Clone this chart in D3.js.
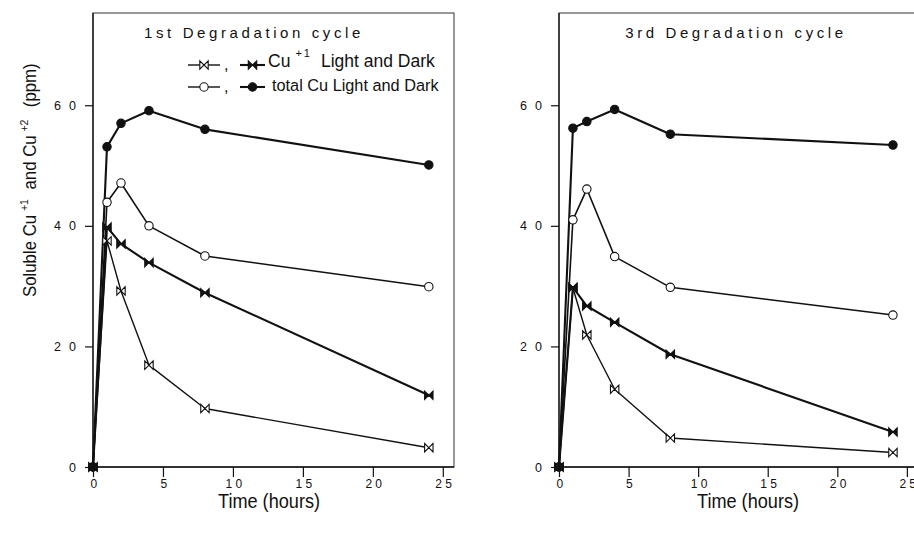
<!DOCTYPE html>
<html><head><meta charset="utf-8">
<script src="https://cdn.jsdelivr.net/npm/d3@7"></script>
<style>body{margin:0;background:#fff} svg{display:block}</style>
</head><body><svg id="chart"></svg>
<script>
var hours = [0, 1, 2, 4, 8, 24];
var xTicks = [0, 5, 10, 15, 20, 25];
var yTicks = [0, 20, 40, 60];
var titles = ['1st Degradation cycle', '3rd Degradation cycle'];

// 1st cycle
var cu1Light1 = [0, 37.5, 29.2, 16.9, 9.7, 3.2];
var cu1Dark1 = [0, 39.8, 37, 33.9, 28.9, 11.9];
var totLight1 = [0, 43.9, 47.1, 40, 35, 29.9];
var totDark1 = [0, 53.1, 57, 59.1, 56, 50.1];
// 3rd cycle
var cu1Light3 = [0, 29.7, 21.9, 12.9, 4.8, 2.4];
var cu1Dark3 = [0, 29.8, 26.7, 24, 18.7, 5.8];
var totLight3 = [0, 41, 46.1, 34.9, 29.8, 25.2];
var totDark3 = [0, 56.2, 57.3, 59.3, 55.2, 53.4];

var svg = d3.select('#chart').attr('width', 914).attr('height', 539);
var ink = '#111';
var sans = "'Liberation Sans', Arial, sans-serif";

// marker shapes
function marker(g, type, cx, cy) {
  var s = 4.2;
  if (type == 'bowOpen' || type == 'bowFill') {
    g.append('path')
      .attr('d', 'M' + (cx - s) + ',' + (cy - s) + 'L' + cx + ',' + cy + 'L' + (cx - s) + ',' + (cy + s) + 'Z' +
                 'M' + (cx + s) + ',' + (cy - s) + 'L' + cx + ',' + cy + 'L' + (cx + s) + ',' + (cy + s) + 'Z')
      .attr('fill', type == 'bowFill' ? ink : '#fff')
      .attr('stroke', ink)
      .attr('stroke-width', 1.1);
  } else {
    g.append('circle')
      .attr('cx', cx).attr('cy', cy).attr('r', 4.2)
      .attr('fill', type == 'circFill' ? ink : '#fff')
      .attr('stroke', ink)
      .attr('stroke-width', 1.1);
  }
}

var panels = [
  {left: 93, right: 454, titleX: 254, xTitleX: 269,
   series: [[cu1Light1, 'bowOpen', 1.4], [totLight1, 'circOpen', 1.6], [cu1Dark1, 'bowFill', 2.1], [totDark1, 'circFill', 2.1]]},
  {left: 559, right: 918, titleX: 736, xTitleX: 748,
   series: [[cu1Light3, 'bowOpen', 1.4], [totLight3, 'circOpen', 1.6], [cu1Dark3, 'bowFill', 2.1], [totDark3, 'circFill', 2.1]]}
];

panels.forEach(function(p, pi) {
  var x = d3.scaleLinear().domain([0, 25.8]).range([p.left, p.right]);
  var y = d3.scaleLinear().domain([0, 75.3]).range([467, 13]);
  var g = svg.append('g');

  // frame
  g.append('rect')
    .attr('x', x(0)).attr('y', y(75.3))
    .attr('width', x(25.8) - x(0)).attr('height', y(0) - y(75.3))
    .attr('fill', 'none').attr('stroke', '#333').attr('stroke-width', 1);

  var xAxis = g.append('g')
    .attr('transform', 'translate(0,' + y(0) + ')')
    .call(d3.axisBottom(x).tickValues(xTicks).tickSize(10).tickPadding(2).tickSizeOuter(0));
  var yAxis = g.append('g')
    .attr('transform', 'translate(' + x(0) + ',0)')
    .call(d3.axisLeft(y).tickValues(yTicks).tickSize(8).tickPadding(1).tickSizeOuter(0));
  xAxis.select('.domain').remove();
  yAxis.select('.domain').remove();
  g.append('line').attr('x1', x(0)).attr('x2', x(25.8)).attr('y1', y(0)).attr('y2', y(0))
    .attr('stroke', ink).attr('stroke-width', 1.5);
  g.append('line').attr('x1', x(0)).attr('x2', x(0)).attr('y1', y(0)).attr('y2', y(75.3))
    .attr('stroke', ink).attr('stroke-width', 1.3);
  g.selectAll('.tick line').attr('stroke', ink).attr('stroke-width', 1.2);
  xAxis.selectAll('.tick text')
    .attr('font-family', sans).attr('font-size', '12px').attr('fill', ink)
    .attr('letter-spacing', '3.3px').attr('dx', '2px');
  yAxis.selectAll('.tick text')
    .attr('font-family', sans).attr('font-size', '12.5px').attr('fill', ink)
    .attr('letter-spacing', '8px');

  // lines + markers
  var line = d3.line().x(function(d, i) { return x(hours[i]); }).y(function(d) { return y(d); });
  p.series.forEach(function(s) {
    g.append('path').datum(s[0])
      .attr('d', line)
      .attr('fill', 'none').attr('stroke', ink).attr('stroke-width', s[2])
      .attr('stroke-linejoin', 'round');
  });
  p.series.forEach(function(s) {
    s[0].forEach(function(v, i) { marker(g, s[1], x(hours[i]), y(v)); });
  });

  // titles
  g.append('text').text(titles[pi])
    .attr('x', p.titleX).attr('y', 38)
    .attr('text-anchor', 'middle')
    .attr('font-family', sans).attr('font-size', '15px')
    .attr('letter-spacing', '3.6px').attr('fill', ink);
  g.append('text').text('Time (hours)')
    .attr('transform', 'translate(' + p.xTitleX + ',508) scale(0.93,1)')
    .attr('text-anchor', 'middle')
    .attr('font-family', sans).attr('font-size', '19.5px').attr('fill', ink);
});

// y axis title
var yt = svg.append('text')
  .attr('transform', 'translate(36,297) rotate(-90) scale(0.96,1)')
  .attr('font-family', sans).attr('font-size', '17.5px').attr('fill', ink);
yt.append('tspan').text('Soluble Cu');
yt.append('tspan').text('+1').attr('font-size', '11px').attr('dy', -8).attr('dx', 4);
yt.append('tspan').text(' and Cu').attr('dy', 8).attr('dx', 5);
yt.append('tspan').text('+2').attr('font-size', '11px').attr('dy', -8).attr('dx', 4);
yt.append('tspan').text(' (ppm)').attr('dy', 8).attr('dx', 8);

// legend (left panel)
var lg = svg.append('g');
function legendSym(x1, x2, cy, type, w) {
  lg.append('line').attr('x1', x1).attr('x2', x2).attr('y1', cy).attr('y2', cy)
    .attr('stroke', ink).attr('stroke-width', w);
  marker(lg, type, (x1 + x2) / 2, cy);
}
legendSym(188, 220, 65, 'bowOpen', 1.4);
legendSym(240, 265, 65, 'bowFill', 2.1);
legendSym(188, 220, 87, 'circOpen', 1.4);
legendSym(240, 265, 87, 'circFill', 2.1);
lg.append('text').text(',').attr('x', 224).attr('y', 70).attr('font-family', sans).attr('font-size', '16px').attr('fill', ink);
lg.append('text').text(',').attr('x', 224).attr('y', 92).attr('font-family', sans).attr('font-size', '16px').attr('fill', ink);
var l1 = lg.append('text').attr('x', 268).attr('y', 67)
  .attr('font-family', sans).attr('font-size', '17.5px').attr('fill', ink);
l1.append('tspan').text('Cu');
l1.append('tspan').text('+1').attr('font-size', '11px').attr('dy', -10).attr('dx', 5).attr('letter-spacing', '2px');
l1.append('tspan').text('Light and Dark').attr('dy', 10).attr('dx', 9);
lg.append('text').text('total Cu Light and Dark')
  .attr('x', 272).attr('y', 91)
  .attr('font-family', sans).attr('font-size', '16.3px').attr('fill', ink);
</script>
</body></html>
